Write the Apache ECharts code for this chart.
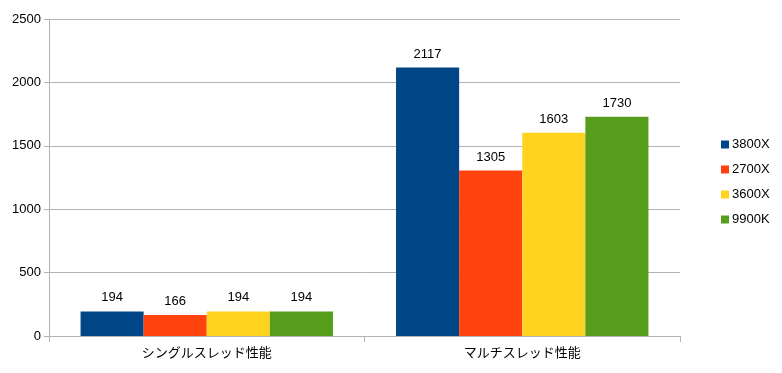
<!DOCTYPE html>
<html>
<head>
<meta charset="utf-8">
<script src="https://cdn.jsdelivr.net/npm/echarts@6/dist/echarts.min.js"></script>
<style>
html,body{margin:0;padding:0;background:#fff;}
#main{width:782px;height:373px;}
</style>
</head>
<body>
<div id="main"></div>
<script>
const categories = ["シングルスレッド性能", "マルチスレッド性能"]
const names = ["3800X", "2700X", "3600X", "9900K"]
const colors = ["#004586", "#ff420e", "#ffd320", "#579d1c"]
const v3800X = [194, 2117]
const v2700X = [166, 1305]
const v3600X = [194, 1603]
const v9900K = [194, 1730]
const values = [v3800X, v2700X, v3600X, v9900K]

const font = "'Liberation Sans', 'Noto Sans CJK JP', sans-serif"
let chart = echarts.init(document.getElementById("main"))
chart.setOption({
    animation: false,
    textStyle: {fontFamily: font},
    grid: {left: 49, top: 19, right: 102, bottom: 37},
    legend: {
        orient: "vertical",
        left: 716,
        top: 133,
        itemWidth: 8,
        itemHeight: 8,
        itemGap: 12,
        icon: "rect",
        textStyle: {fontSize: 13, color: "#000", padding: [0, 0, 0, -2]},
        data: names
    },
    xAxis: {
        type: "category",
        data: categories,
        axisLine: {lineStyle: {color: "#b3b3b3"}},
        axisTick: {show: true, length: 6, lineStyle: {color: "#b3b3b3"}},
        axisLabel: {fontSize: 13, color: "#000", margin: 11}
    },
    yAxis: {
        type: "value",
        min: 0,
        max: 2500,
        interval: 500,
        axisLine: {show: true, lineStyle: {color: "#b3b3b3"}},
        axisTick: {show: true, length: 5, lineStyle: {color: "#b3b3b3"}},
        splitLine: {lineStyle: {color: "#b3b3b3"}},
        axisLabel: {fontSize: 13, color: "#000", margin: 8, formatter: v => String(v)}
    },
    series: names.map((name, i) => {
        return {
            name: name,
            type: "bar",
            data: values[i],
            barGap: "0%",
            barCategoryGap: "20%",
            itemStyle: {color: colors[i]},
            label: {show: true, position: "top", fontSize: 13, color: "#000", distance: 7}
        }
    })
})
</script>
</body>
</html>
